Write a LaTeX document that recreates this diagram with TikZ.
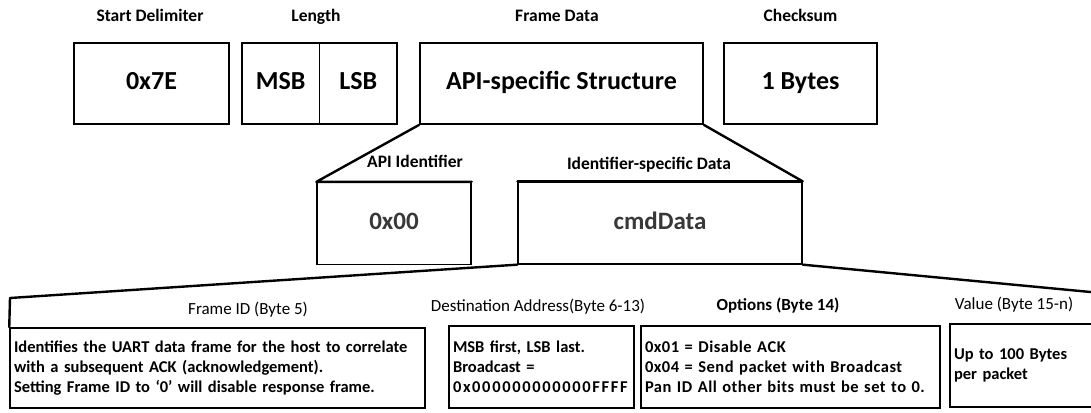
\documentclass[tikz,border=0pt]{standalone}
\usepackage{fontspec}
\setmainfont{Carlito}
\begin{document}
\begin{tikzpicture}[x=1pt,y=-1pt,
  field/.style={draw, line width=1.8pt, minimum height=81pt, inner sep=0pt,
    text height=17pt, text depth=5pt,
    font=\bfseries\fontsize{26}{30}\selectfont},
  caption/.style={text height=12pt, text depth=4pt,
    font=\bfseries\fontsize{17.5}{20}\selectfont},
  subfield/.style={draw, line width=1.3pt, minimum height=82pt, inner sep=0pt,
    text height=17pt, text depth=5pt,
    text=black!78, font=\bfseries\fontsize{25}{30}\selectfont},
  zoomline/.style={line width=2.4pt, line join=round, line cap=round},
  desc/.style={draw, line width=1.5pt, align=left, inner xsep=4pt, inner ysep=0pt,
    font=\bfseries\fontsize{16.5}{20}\selectfont},
  head/.style={text height=12pt, text depth=4pt, font=\fontsize{17}{20}\selectfont},
  boldhead/.style={head, font=\bfseries\fontsize{17}{20}\selectfont}]
\useasboundingbox (0,0) rectangle (1091,412);
\clip (0,0) rectangle (1091,412);

% API frame fields
\node[field, minimum width=155pt] (start) at (151.5,83.5) {0x7E};
\node[field, minimum width=77.5pt] (msb) at (280.75,83.5) {MSB};
\node[field, minimum width=77.5pt] (lsb) at (358.25,83.5) {LSB};
\node[field, minimum width=283pt] (frame) at (561.5,83.5) {API-specific Structure};
\node[field, minimum width=153pt] (check) at (800.5,83.5) {1 Bytes};

\node[caption] (lstart) at (150,18) {Start Delimiter};
\node[caption] (llen) at (316,18) {Length};
\node[caption] (lframe) at (557,18) {Frame Data};
\node[caption] (lcheck) at (800.5,18) {Checksum};

% frame data breakdown
\node[subfield, minimum width=154pt] (api) at (394,223.5) {0x00};
\node[subfield, minimum width=284pt] (cmd) at (660,223) {cmdData};
\node[caption] (lapi) at (415,163) {API Identifier};
\node[caption] (lcmd) at (649,165) {Identifier-specific Data};

% cmdData breakdown
\node[desc, text width=407pt, minimum height=80pt] (fid) at (217.5,368)
  {Identifies the UART data frame for the host to correlate\\
   with a subsequent ACK (acknowledgement).\\
   Setting Frame ID to ‘0’ will disable response frame.};
\node[desc, text width=177pt, minimum height=82pt] (dst) at (541.5,367)
  {MSB first, LSB last.\\ Broadcast =\\
   {\addfontfeature{LetterSpace=10}0x000000000000FFFF}};
\node[desc, text width=291pt, minimum height=82pt] (opt) at (790.5,367)
  {\addfontfeature{LetterSpace=3}0x01 = Disable ACK\\
   \addfontfeature{LetterSpace=3}0x04 = Send packet with Broadcast\\
   \addfontfeature{LetterSpace=3}Pan ID All other bits must be set to 0.};
\node[desc, text width=150pt, minimum height=83pt] (val) at (1029,365.5)
  {Up to 100 Bytes\\ per packet};

\node[head] (hfid) at (248,310) {Frame ID (Byte 5)};
\node[head] (hdst) at (538,307) {Destination Address(Byte 6-13)};
\node[boldhead] (hopt) at (778,306) {Options (Byte 14)};
\node[head] (hval) at (1014,305) {Value (Byte 15-n)};

\coordinate (bl) at (10,298);
\coordinate (br) at (1120,294.8);

% zoom outlines
\draw[zoomline] (frame.south west) -- (api.north west) -- (api.north east);
\draw[zoomline] (frame.south east) -- (cmd.north east) -- (cmd.north west);
\draw[zoomline] (cmd.south west) -- (bl) -- (fid.north west);
\draw[zoomline] (cmd.south east) -- (br);
\end{tikzpicture}
\end{document}
